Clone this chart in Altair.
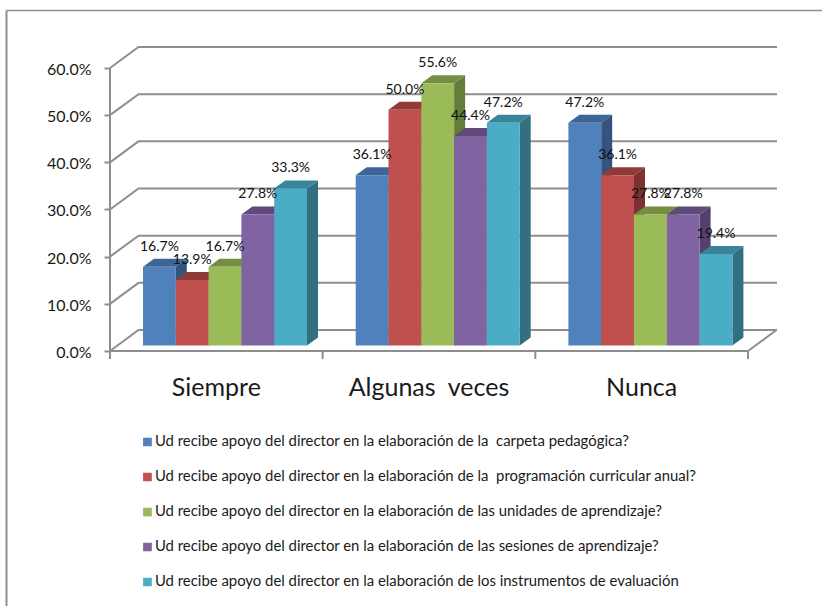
import altair as alt
import pandas as pd

# Survey shares per answer and question
categories = ["Siempre", "Algunas\u00a0 veces", "Nunca"]
questions = [
    "Ud recibe apoyo del director en la elaboración de la\u00a0 carpeta pedagógica?",
    "Ud recibe apoyo del director en la elaboración de la\u00a0 programación curricular anual?",
    "Ud recibe apoyo del director en la elaboración de las unidades de aprendizaje?",
    "Ud recibe apoyo del director en la elaboración de las sesiones de aprendizaje?",
    "Ud recibe apoyo del director en la elaboración de los instrumentos de evaluación",
]
siempre = [0.167, 0.139, 0.167, 0.278, 0.333]
algunas_veces = [0.361, 0.500, 0.556, 0.444, 0.472]
nunca = [0.472, 0.361, 0.278, 0.278, 0.194]
series_by_category = [siempre, algunas_veces, nunca]
y_ticks = [0.0, 0.1, 0.2, 0.3, 0.4, 0.5, 0.6]

front_colors = ["#4F81BD", "#C0504D", "#9BBB59", "#8064A2", "#4BACC6"]
top_colors = ["#3D6596", "#8F3B39", "#758E43", "#60497B", "#38849A"]
side_colors = ["#34547F", "#7C3231", "#667C3A", "#553F6C", "#326F80"]

# Oblique projection of the box, in px
W, H = 822, 606
PX_PER_UNIT = 471.67
FLOOR_Y = 351
AXIS_LEFT, AXIS_RIGHT = 110, 748
WALL_DX, WALL_DY = 28.5, 21
BAR_LEFT, GROUP_STEP, BAR_W = 143, 212.7, 32.8
BAR_DX, BAR_DY = 11, 8
BAR_LIFT = 5.5

to_units = lambda px: px / PX_PER_UNIT
wall_rise = to_units(WALL_DY)
bar_rise = to_units(BAR_DY)
lift = to_units(BAR_LIFT)

x_scale = alt.Scale(domain=[0, W], range=[0, W], nice=False, zero=False)
y_scale = alt.Scale(
    domain=[-(H - FLOOR_Y) / PX_PER_UNIT, FLOOR_Y / PX_PER_UNIT],
    range=[H, 0], nice=False, zero=False,
)
X = alt.X("x:Q", scale=x_scale, axis=None)
LINE = {"color": "#8E8E8E", "strokeWidth": 2}

# Walls and floor
wall_rows = []
for t in y_ticks:
    wall_rows += [
        {"level": t, "x": AXIS_LEFT, "y": t},
        {"level": t, "x": AXIS_LEFT + WALL_DX, "y": t + wall_rise},
        {"level": t, "x": W - 45, "y": t + wall_rise},
    ]
walls = alt.Chart(pd.DataFrame(wall_rows)).mark_line(**LINE).encode(
    x=X,
    y=alt.Y(
        "y:Q", scale=y_scale, title=None,
        axis=alt.Axis(
            values=y_ticks, format=".1%", offset=-AXIS_LEFT, domain=False, grid=False,
            tickColor="#8E8E8E", tickWidth=2, tickSize=6, labelPadding=13, labelOffset=1.5,
            labelFont="Lato", labelFontSize=16, labelColor="#1a1a1a",
        ),
    ),
    detail="level:N",
)
frame_rows = pd.DataFrame([
    {"id": "left", "x": AXIS_LEFT, "y": 0.0},
    {"id": "left", "x": AXIS_LEFT, "y": max(y_ticks)},
])
left_wall = alt.Chart(frame_rows).mark_rule(**LINE).encode(
    x=X, y=alt.Y("min(y):Q", scale=y_scale), y2="max(y):Q"
)
floor_front = alt.Chart(pd.DataFrame({"x": [AXIS_LEFT], "x2": [AXIS_RIGHT], "y": [0.0]})).mark_rule(**LINE).encode(
    x=X, x2="x2:Q", y=alt.Y("y:Q", scale=y_scale)
)
floor_side = alt.Chart(pd.DataFrame({
    "x": [AXIS_RIGHT, AXIS_RIGHT + WALL_DX], "y": [0.0, wall_rise],
})).mark_line(**LINE).encode(x=X, y=alt.Y("y:Q", scale=y_scale))
cat_ticks = alt.Chart(pd.DataFrame({
    "x": [AXIS_LEFT + i * (AXIS_RIGHT - AXIS_LEFT) / len(categories) for i in range(len(categories) + 1)],
    "y": [0.0] * 4, "y2": [-to_units(8)] * 4,
})).mark_rule(**LINE).encode(x=X, y=alt.Y("y:Q", scale=y_scale), y2="y2:Q")

# Box faces of every bar
bars, faces = [], []
for c, (cat, values) in enumerate(zip(categories, series_by_category)):
    for s, v in enumerate(values):
        x0 = BAR_LEFT + c * GROUP_STEP + s * BAR_W
        x1 = x0 + BAR_W
        bars.append({"category": cat, "question": questions[s], "value": v,
                     "x": x0, "x2": x1, "xc": (x0 + x1) / 2, "zero": 0.0})
        top = v + lift
        base = lift
        face_id = f"{c}-{s}"
        faces += [
            {"id": face_id, "face": "side", "fill": side_colors[s], "x": x1, "lo": base, "hi": top},
            {"id": face_id, "face": "side", "fill": side_colors[s], "x": x1 + BAR_DX, "lo": base + bar_rise, "hi": top + bar_rise},
            {"id": face_id, "face": "top", "fill": top_colors[s], "x": x0, "lo": top, "hi": top},
            {"id": face_id, "face": "top", "fill": top_colors[s], "x": x0 + BAR_DX, "lo": top, "hi": top + bar_rise},
            {"id": face_id, "face": "top", "fill": top_colors[s], "x": x1, "lo": top, "hi": top + bar_rise},
            {"id": face_id, "face": "top", "fill": top_colors[s], "x": x1 + BAR_DX, "lo": top + bar_rise, "hi": top + bar_rise},
        ]
bars_df = pd.DataFrame(bars)
faces_df = pd.DataFrame(faces)


def face_layer(name):
    return alt.Chart(faces_df[faces_df.face == name]).mark_area(orient="vertical", strokeWidth=0).encode(
        x=X,
        y=alt.Y("lo:Q", scale=y_scale),
        y2="hi:Q",
        detail="id:N",
        fill=alt.Fill("fill:N", scale=None),
    )


fronts = alt.Chart(bars_df).mark_rect(yOffset=-BAR_LIFT, y2Offset=-BAR_LIFT).encode(
    x=X,
    x2="x2:Q",
    y=alt.Y("value:Q", scale=y_scale),
    y2="zero:Q",
    color=alt.Color(
        "question:N",
        scale=alt.Scale(domain=questions, range=front_colors),
        legend=alt.Legend(
            title=None, orient="none", legendX=140, legendY=433, columns=1,
            symbolType="square", symbolSize=76, symbolStrokeWidth=0, rowPadding=17,
            labelFont="Lato", labelFontSize=14.9, labelColor="#1a1a1a", labelLimit=700,
            labelOffset=0, clipHeight=18,
        ),
    ),
)

value_labels = alt.Chart(bars_df).mark_text(
    font="Lato", fontSize=14, color="#111111", baseline="middle", dy=-25.5
).encode(
    x=alt.X("xc:Q", scale=x_scale, axis=None),
    y=alt.Y("value:Q", scale=y_scale),
    text=alt.Text("value:Q", format=".1%"),
)

cat_labels = alt.Chart(pd.DataFrame({
    "category": categories,
    "x": [AXIS_LEFT + (i + 0.5) * (AXIS_RIGHT - AXIS_LEFT) / len(categories) for i in range(len(categories))],
    "y": [-to_units(36.5)] * len(categories),
})).mark_text(font="Lato", fontSize=25, color="#1a1a1a", baseline="middle").encode(
    x=X, y=alt.Y("y:Q", scale=y_scale), text="category:N"
)

# Outer chart border, left and top edges only
border_left = alt.Chart(pd.DataFrame({"a": [0]})).mark_rule(color="#8E8E8E", strokeWidth=2).encode(
    x=alt.value(6.5), y=alt.value(10.5), y2=alt.value(H)
)
border_top = alt.Chart(pd.DataFrame({"a": [0]})).mark_rule(color="#8E8E8E", strokeWidth=1.5).encode(
    x=alt.value(6.5), x2=alt.value(W), y=alt.value(10.5)
)

chart = alt.layer(
    border_left, border_top, walls, left_wall, floor_front, floor_side, cat_ticks,
    face_layer("side"), face_layer("top"), fronts, value_labels, cat_labels,
).resolve_scale(fill="independent").properties(
    width=W, height=H, padding=0, background="white",
    autosize=alt.AutoSizeParams(type="none"),
).configure_view(stroke=None)

chart.save("out.html", embed_options={"renderer": "svg", "actions": False})
